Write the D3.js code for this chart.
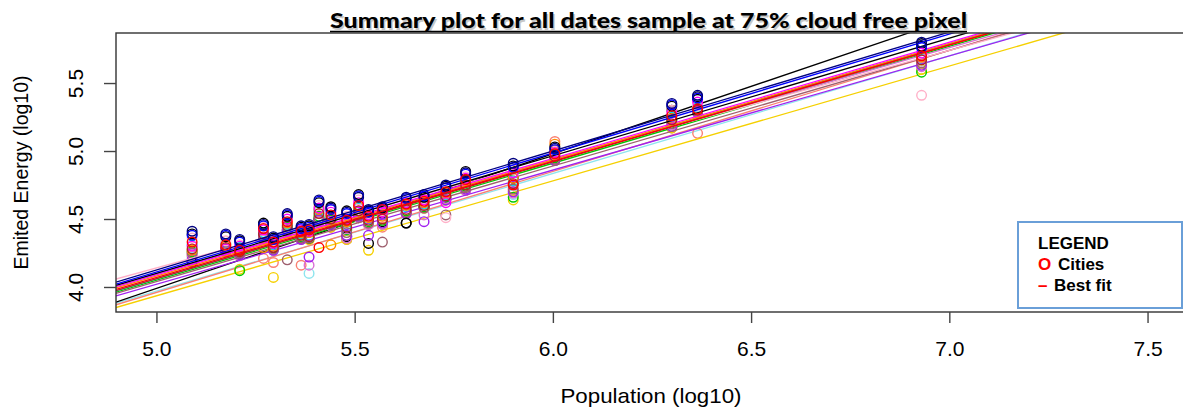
<!DOCTYPE html>
<html lang="en">
<head>
<meta charset="UTF-8">
<title>Summary plot</title>
<script src="https://d3js.org/d3.v7.min.js"></script>
<style>
    body { margin: 0; background-color: #ffffff; }
    svg { display: block; }
</style>
</head>
<body>
<div id="my_dataviz"></div>

<script>

//data: x = city population (log10), one array of emitted energy (log10) per date
var population = [5.09, 5.175, 5.21, 5.27, 5.295, 5.33, 5.365, 5.385, 5.41, 5.44, 5.48, 5.51, 5.535, 5.57, 5.63, 5.675, 5.73, 5.78, 5.90, 6.005, 6.30, 6.365, 6.93];

var lightblueDate = [4.22, 4.26, 4.23, 4.35, 4.27, 4.40, 4.35, 4.10, 4.48, 4.44, 4.35, 4.51, 4.46, 4.46, 4.54, 4.58, 4.64, 4.71, 4.68, 4.93, 5.17, 5.28, 5.60];
var salmonDate    = [4.23, 4.26, 4.23, 4.21, 4.18, 4.43, 4.16, 4.35, 4.50, 4.44, 4.35, 4.51, 4.46, 4.44, 4.55, 4.58, 4.64, 4.71, 4.71, 5.07, 5.17, 5.13, 5.64];
var yellowDate    = [4.19, 4.26, 4.13, 4.35, 4.07, 4.40, 4.35, 4.35, 4.48, 4.44, 4.35, 4.51, 4.27, 4.46, 4.54, 4.58, 4.64, 4.71, 4.64, 4.93, 5.17, 5.28, 5.60];
var black2Date    = [4.18, 4.28, 4.24, 4.37, 4.29, 4.42, 4.36, 4.36, 4.50, 4.46, 4.37, 4.53, 4.32, 4.48, 4.47, 4.59, 4.66, 4.79, 4.80, 5.00, 5.30, 5.38, 5.79];
var greenDate     = [4.26, 4.27, 4.12, 4.38, 4.28, 4.44, 4.37, 4.36, 4.52, 4.49, 4.42, 4.55, 4.48, 4.49, 4.56, 4.59, 4.66, 4.74, 4.66, 4.95, 5.22, 5.29, 5.58];
var cyanDate      = [4.31, 4.32, 4.29, 4.40, 4.31, 4.46, 4.39, 4.38, 4.56, 4.52, 4.46, 4.58, 4.50, 4.53, 4.59, 4.61, 4.68, 4.77, 4.78, 4.97, 5.25, 5.32, 5.68];
var orchidDate    = [4.24, 4.26, 4.23, 4.35, 4.27, 4.42, 4.35, 4.16, 4.48, 4.45, 4.36, 4.51, 4.46, 4.46, 4.54, 4.53, 4.65, 4.71, 4.69, 4.94, 5.19, 5.29, 5.62];
var purpleDate    = [4.20, 4.27, 4.24, 4.37, 4.27, 4.41, 4.35, 4.22, 4.49, 4.46, 4.38, 4.52, 4.38, 4.47, 4.54, 4.48, 4.64, 4.72, 4.70, 4.93, 5.18, 5.28, 5.63];
var brownDate     = [4.25, 4.26, 4.25, 4.36, 4.28, 4.20, 4.36, 4.36, 4.50, 4.47, 4.40, 4.53, 4.47, 4.33, 4.55, 4.58, 4.53, 4.73, 4.72, 4.94, 5.20, 5.29, 5.65];
var pinkDate      = [4.36, 4.34, 4.31, 4.44, 4.34, 4.53, 4.44, 4.43, 4.60, 4.57, 4.52, 4.64, 4.54, 4.56, 4.63, 4.65, 4.51, 4.81, 4.86, 5.00, 5.30, 5.33, 5.41];
var orangeDate    = [4.27, 4.30, 4.28, 4.29, 4.30, 4.47, 4.40, 4.40, 4.57, 4.31, 4.48, 4.59, 4.51, 4.52, 4.60, 4.62, 4.69, 4.78, 4.80, 5.05, 5.24, 5.30, 5.69];
var magentaDate   = [4.30, 4.28, 4.30, 4.42, 4.32, 4.50, 4.42, 4.41, 4.58, 4.55, 4.50, 4.62, 4.53, 4.55, 4.62, 4.64, 4.62, 4.80, 4.84, 4.99, 5.28, 5.36, 5.72];
var darkredDate   = [4.28, 4.29, 4.26, 4.39, 4.29, 4.45, 4.38, 4.37, 4.54, 4.50, 4.44, 4.56, 4.49, 4.50, 4.57, 4.60, 4.67, 4.75, 4.76, 4.96, 5.23, 5.30, 5.67];
var blackDate     = [4.39, 4.37, 4.34, 4.47, 4.36, 4.52, 4.44, 4.45, 4.62, 4.59, 4.56, 4.68, 4.56, 4.58, 4.47, 4.66, 4.74, 4.85, 4.89, 5.03, 5.33, 5.40, 5.77];
var blueDate      = [4.38, 4.38, 4.33, 4.45, 4.35, 4.53, 4.43, 4.44, 4.63, 4.57, 4.54, 4.67, 4.55, 4.57, 4.65, 4.67, 4.73, 4.83, 4.88, 5.01, 5.34, 5.39, 5.76];
var navyDate      = [4.41, 4.39, 4.35, 4.46, 4.37, 4.54, 4.45, 4.46, 4.64, 4.58, 4.55, 4.66, 4.57, 4.59, 4.66, 4.68, 4.75, 4.84, 4.91, 5.02, 5.35, 5.41, 5.80];
var redDate       = [4.33, 4.31, 4.27, 4.43, 4.33, 4.48, 4.41, 4.42, 4.29, 4.53, 4.49, 4.60, 4.52, 4.57, 4.61, 4.63, 4.70, 4.79, 4.75, 4.98, 5.26, 5.31, 5.70];

//one colour per date (draw order)
var dateColors = ["#8ee5ee", "#fa8072", "#f5d000", "#000000", "#00cc00", "#00e5ee", "#da70d6", "#a020f0", "#9e5f6e",
                  "#ffb0c8", "#ff8c00", "#ff00ff", "#b22222", "#000000", "#0000ff", "#000080", "#ff0000"];

//best fit lines: value at population 5.0 and at 7.0
var fitAt5 = [3.97, 3.96, 3.935, 3.99, 4.05, 4.06, 4.10, 4.02, 4.04, 4.14, 4.08, 4.09, 4.06, 4.10, 4.11, 4.125, 4.07];
var fitAt7 = [5.70, 5.74, 5.625, 5.97, 5.77, 5.79, 5.76, 5.70, 5.74, 5.74, 5.79, 5.80, 5.78, 5.83, 5.86, 5.875, 5.78];

var xTicks = [5.0, 5.5, 6.0, 6.5, 7.0, 7.5];
var yTicks = [4.0, 4.5, 5.0, 5.5];

var dateValues = [lightblueDate, salmonDate, yellowDate, black2Date, greenDate, cyanDate, orchidDate, purpleDate, brownDate,
                  pinkDate, orangeDate, magentaDate, darkredDate, blackDate, blueDate, navyDate, redDate];

//dimensions
var W = 1183, H = 412;
var plot = {left: 116, top: 33, right: 1186, bottom: 312};
var font = "'Liberation Sans', Arial, sans-serif";

var svg = d3.select("#my_dataviz")
    .append("svg")
        .attr("width", W)
        .attr("height", H)
        .style("background-color", "white");

//scales
var x = d3.scaleLinear()
    .domain([4.898, 7.597])
    .range([plot.left, plot.right]);

var y = d3.scaleLinear()
    .domain([3.816, 5.868])
    .range([plot.bottom, plot.top]);

svg.append("clipPath")
    .attr("id", "plotclip")
    .append("rect")
        .attr("x", plot.left)
        .attr("y", plot.top)
        .attr("width", plot.right - plot.left)
        .attr("height", plot.bottom - plot.top);

var marks = svg.append("g").attr("clip-path", "url(#plotclip)");

//points and best fit line for every date
dateValues.forEach(function(vals, i) {
    var col = dateColors[i];
    marks.append("g")
        .selectAll("circle")
        .data(vals)
        .enter()
        .append("circle")
            .attr("cx", function(d, j) { return x(population[j]); })
            .attr("cy", function(d) { return y(d); })
            .attr("r", 4.8)
            .attr("fill", "none")
            .attr("stroke", col)
            .attr("stroke-width", 1.4);

    var slope = (fitAt7[i] - fitAt5[i]) / 2;
    var x0 = x.domain()[0], x1 = x.domain()[1];
    marks.append("line")
        .attr("x1", x(x0))
        .attr("y1", y(fitAt5[i] + slope * (x0 - 5)))
        .attr("x2", x(x1))
        .attr("y2", y(fitAt5[i] + slope * (x1 - 5)))
        .attr("stroke", col)
        .attr("stroke-width", 1.3);
});

//box
svg.append("rect")
    .attr("x", plot.left)
    .attr("y", plot.top)
    .attr("width", plot.right - plot.left)
    .attr("height", plot.bottom - plot.top)
    .attr("fill", "none")
    .attr("stroke", "#333")
    .attr("stroke-width", 1.4);

//x axis
var gx = svg.append("g")
    .attr("transform", "translate(0," + plot.bottom + ")")
    .call(d3.axisBottom(x).tickValues(xTicks).tickSize(11).tickFormat(d3.format(".1f")));
gx.select(".domain").remove();
gx.selectAll(".tick line").attr("stroke", "#444").attr("stroke-width", 1.4);
gx.selectAll("text")
    .attr("y", 44)
    .attr("dy", null)
    .attr("fill", "#000")
    .style("font-family", font)
    .style("font-size", "21px");

//y axis
var gy = svg.append("g")
    .attr("transform", "translate(" + plot.left + ",0)")
    .call(d3.axisLeft(y).tickValues(yTicks).tickSize(12).tickFormat(d3.format(".1f")));
gy.select(".domain").remove();
gy.selectAll(".tick line").attr("stroke", "#444").attr("stroke-width", 1.4);
gy.selectAll("text")
    .attr("x", null)
    .attr("dy", null)
    .attr("transform", "translate(-33,0) rotate(-90)")
    .attr("text-anchor", "middle")
    .attr("fill", "#000")
    .style("font-family", font)
    .style("font-size", "21px");

//axis titles
svg.append("text")
    .attr("x", (plot.left + 1186) / 2)
    .attr("y", 403)
    .attr("text-anchor", "middle")
    .attr("textLength", 181)
    .attr("lengthAdjust", "spacingAndGlyphs")
    .style("font-family", font)
    .style("font-size", "21px")
    .text("Population (log10)");

svg.append("text")
    .attr("transform", "translate(28," + ((plot.top + plot.bottom) / 2) + ") rotate(-90)")
    .attr("text-anchor", "middle")
    .attr("textLength", 194)
    .attr("lengthAdjust", "spacingAndGlyphs")
    .style("font-family", font)
    .style("font-size", "20px")
    .text("Emited Energy (log10)");

//title with soft shadow and underline
var titleText = "Summary plot for all dates sample at 75% cloud free pixel";
[["#9a9a9a", 1.5, 0.55], ["#000", 0, 1]].forEach(function(t) {
    svg.append("text")
        .attr("x", 330 + t[1])
        .attr("y", 28 + t[1])
        .attr("textLength", 637)
        .attr("lengthAdjust", "spacingAndGlyphs")
        .attr("fill", t[0])
        .attr("opacity", t[2])
        .style("font-family", "Lato, 'Open Sans', sans-serif")
        .style("font-weight", "900")
        .style("font-size", "21px")
        .text(titleText);
});
svg.append("line")
    .attr("x1", 330).attr("x2", 967)
    .attr("y1", 31.5).attr("y2", 31.5)
    .attr("stroke", "#000")
    .attr("stroke-width", 1.5);

//legend
svg.append("rect")
    .attr("x", 1018)
    .attr("y", 222)
    .attr("width", 164)
    .attr("height", 86)
    .attr("fill", "white")
    .attr("stroke", "#6a9fd8")
    .attr("stroke-width", 2);

var legendRows = [
    {mark: "", label: "LEGEND", y: 249, lx: 1038},
    {mark: "O", label: "Cities", y: 270, lx: 1058},
    {mark: "\u2013", label: "Best fit", y: 291, lx: 1054}
];
legendRows.forEach(function(r) {
    if (r.mark) {
        svg.append("text")
            .attr("x", 1038)
            .attr("y", r.y)
            .attr("fill", "#ff0000")
            .style("font-family", font)
            .style("font-weight", "bold")
            .style("font-size", "17px")
            .text(r.mark);
    }
    svg.append("text")
        .attr("x", r.lx)
        .attr("y", r.y)
        .attr("fill", "#000")
        .style("font-family", font)
        .style("font-weight", "bold")
        .style("font-size", "17px")
        .text(r.label);
});

</script>
</body>
</html>
